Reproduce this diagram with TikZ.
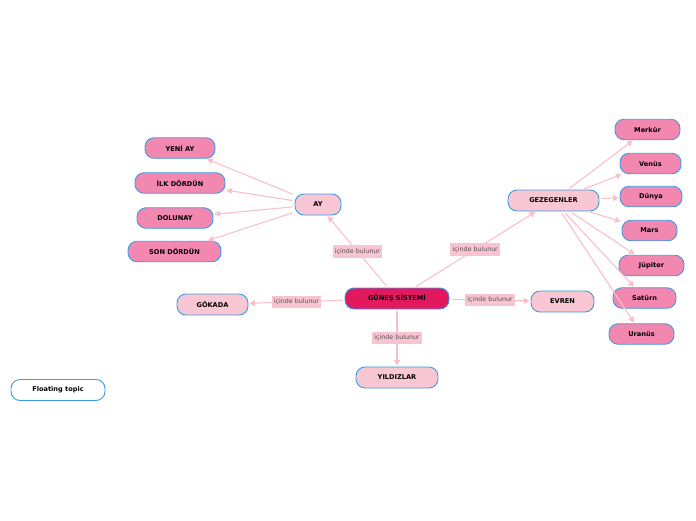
\documentclass[tikz,border=0pt]{standalone}
\usepackage{fontspec}
\setmainfont{DejaVu Sans}
\usepackage{tikz}
\usetikzlibrary{arrows.meta}
\definecolor{solarRose}{HTML}{E2195E}
\definecolor{solarPink}{HTML}{F287B0}
\definecolor{solarBlush}{HTML}{F9C6D3}
\definecolor{solarBlue}{HTML}{3C9BE6}
\definecolor{solarLink}{HTML}{F8C0CD}
\definecolor{solarTag}{HTML}{F7C5D1}
\definecolor{solarTagText}{HTML}{5C4B52}
\tikzset{
  >={Triangle[length=5.5pt,width=6pt]},
  % topic boxes of the mind map
  topic/.style={
    rounded corners=9pt,
    draw=solarBlue,
    line width=0.9pt,
    fill=#1,
    minimum height=21pt,
    inner sep=0pt,
    align=center,
    font=\fontsize{6.6}{7.5}\selectfont\bfseries
  },
  topic/.default=solarBlush,
  maintopic/.style={topic=solarRose},
  leaftopic/.style={topic=solarPink, minimum height=20.5pt},
  floattopic/.style={topic=white},
  % connector with relation tag
  link/.style={
    ->,
    line width=1.1pt,
    draw=solarLink,
    color=solarLink,
    shorten <=2pt,
    shorten >=1pt
  },
  reltag/.style={
    fill=solarTag,
    text=solarTagText,
    inner sep=2.2pt,
    minimum height=12.5pt,
    font=\fontsize{6.3}{7}\selectfont
  }
}
\begin{document}
\begin{tikzpicture}[x=1pt,y=-1pt]
\useasboundingbox (0,0) rectangle (696,520);

\node[maintopic, minimum width=104pt] (sun) at (397,298.5) {GÜNEŞ SİSTEMİ};

\node[topic, minimum width=82pt] (stars) at (397,377.5) {YILDIZLAR};
\node[topic, minimum width=71pt] (galaxy) at (212.5,304.5) {GÖKADA};
\node[topic, minimum width=63pt] (universe) at (562.5,301.5) {EVREN};
\node[topic, minimum width=46pt] (moon) at (318,204.5) {AY};
\node[topic, minimum width=91pt] (planets) at (553.5,200.5) {GEZEGENLER};

\node[leaftopic, minimum width=70pt] (newmoon) at (180,148) {YENİ AY};
\node[leaftopic, minimum width=90pt] (firstq) at (180,183) {İLK DÖRDÜN};
\node[leaftopic, minimum width=76pt] (fullmoon) at (175,218) {DOLUNAY};
\node[leaftopic, minimum width=93pt] (lastq) at (174.5,251.5) {SON DÖRDÜN};

\node[leaftopic, minimum width=65pt] (mercury) at (647.5,129.5) {Merkür};
\node[leaftopic, minimum width=61pt] (venus) at (650.5,163.5) {Venüs};
\node[leaftopic, minimum width=62pt] (earth) at (651,196.5) {Dünya};
\node[leaftopic, minimum width=55pt] (mars) at (649.5,230.5) {Mars};
\node[leaftopic, minimum width=65pt] (jupiter) at (651.5,265.5) {Jüpiter};
\node[leaftopic, minimum width=63pt] (saturn) at (644.5,298) {Satürn};
\node[leaftopic, minimum width=65pt] (uranus) at (641.5,334) {Uranüs};

\node[floattopic, minimum width=94pt] (floating) at (58,390) {Floating topic};

\draw[link] (sun) -- node[reltag] {içinde bulunur} (moon);
\draw[link] (sun) -- node[reltag] {içinde bulunur} (planets);
\draw[link] (sun) -- node[reltag] {içinde bulunur} (galaxy);
\draw[link] (sun) -- node[reltag] {içinde bulunur} (universe);
\draw[link] (sun) -- node[reltag] {içinde bulunur} (stars);

\foreach \phase in {newmoon,firstq,fullmoon,lastq}
  \draw[link] (moon) -- (\phase);

\foreach \planet in {mercury,venus,earth,mars,jupiter,saturn,uranus}
  \draw[link] (planets) -- (\planet);

\end{tikzpicture}
\end{document}
